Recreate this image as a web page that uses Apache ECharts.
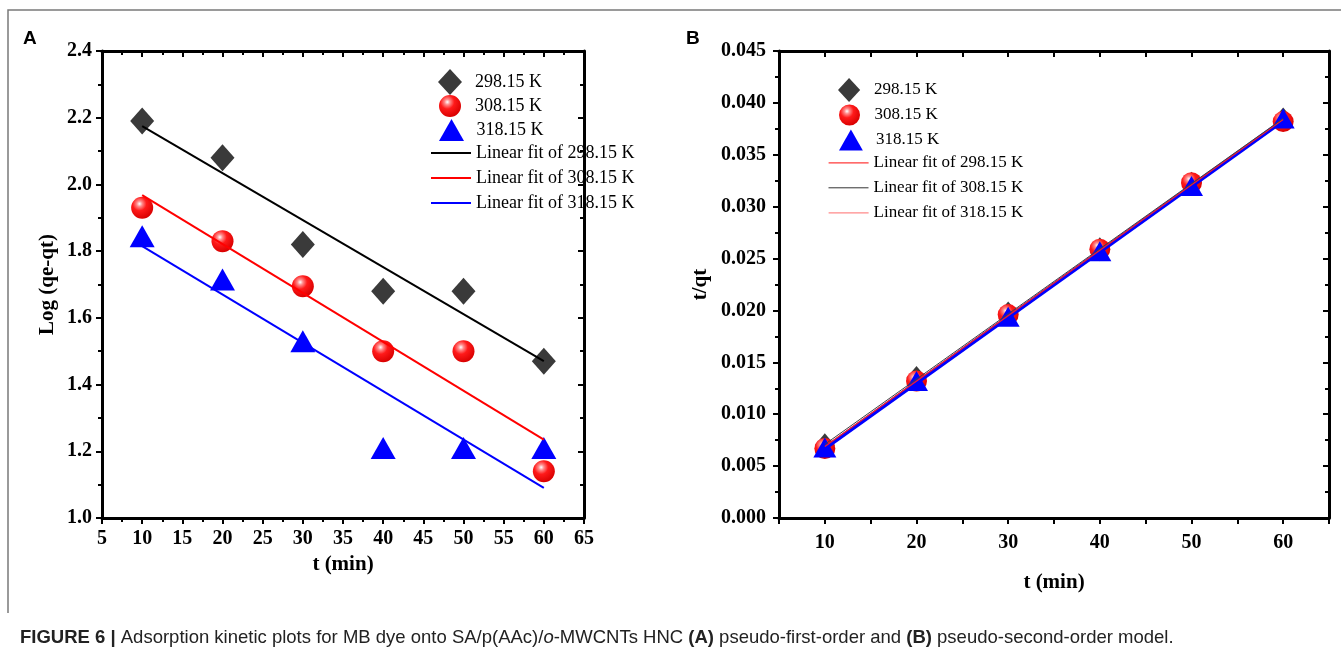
<!DOCTYPE html>
<html>
<head>
<meta charset="utf-8">
<script src="https://cdn.jsdelivr.net/npm/echarts@6/dist/echarts.min.js"></script>
<style>
html,body{margin:0;padding:0;background:#fff;}
#c{width:1341px;height:656px;}
</style>
</head>
<body>
<div id="c"></div>
<script>
// ---------- data ----------
const tA = [10, 20, 30, 40, 50, 60];
const logA298 = [2.19, 2.08, 1.82, 1.68, 1.68, 1.47];
const logA308 = [1.93, 1.83, 1.695, 1.50, 1.50, 1.14];
const logA318 = [1.845, 1.715, 1.53, 1.21, 1.21, 1.21];
const fitT = [10, 60];
const fitA298 = [2.175, 1.47];
const fitA308 = [1.968, 1.235];
const fitA318 = [1.815, 1.09];

const tB = [10, 20, 30, 40, 50, 60];
const tqB298 = [0.0070, 0.0135, 0.0197, 0.0259, 0.0322, 0.0384];
const tqB308 = [0.0067, 0.0132, 0.0196, 0.0259, 0.0323, 0.0382];
const tqB318 = [0.0068, 0.0132, 0.0194, 0.0257, 0.0320, 0.0385];
const fitB298 = [0.0069, 0.0384];
const fitB308 = [0.0071, 0.0385];
const fitB318 = [0.0067, 0.0383];

const names = ['298.15 K', '308.15 K', '318.15 K',
  'Linear fit of 298.15 K', 'Linear fit of 308.15 K', 'Linear fit of 318.15 K'];

const pair = (xs, ys) => xs.map((x, i) => [x, ys[i]]);

const serif = 'Liberation Serif, Times New Roman, serif';
const ballColor = {
  type: 'radial', x: 0.38, y: 0.32, r: 0.7,
  colorStops: [
    {offset: 0, color: '#ffffff'},
    {offset: 0.18, color: '#ff8a8a'},
    {offset: 0.45, color: '#ff1a1a'},
    {offset: 1, color: '#d80000'}
  ]
};
const diamondColor = '#3a3a3a';
const blue = '#0000ff';
const diamondIcon = 'path://M12,0 L24,13 L12,26 L0,13 Z';
const triangleIcon = 'path://M12.5,0 L25,22 L0,22 Z';
const circleIcon = 'path://M11,0 A11,11 0 1,1 10.99,0 Z';

const chart = echarts.init(document.getElementById('c'), null, {renderer: 'canvas'});

function boxAxes(grid, min, max, interval, minorSplit, isX, labelFmt, name, nameGap, labelMargin) {
  const main = {
    type: 'value', gridIndex: grid, min: min, max: max, interval: interval,
    position: isX ? 'bottom' : 'left',
    axisLine: {show: true, onZero: false, lineStyle: {color: '#000', width: 3}},
    axisTick: {show: true, inside: false, length: 6, lineStyle: {color: '#000', width: 2}},
    minorTick: {show: minorSplit > 0, splitNumber: minorSplit || 5, length: 4, lineStyle: {color: '#000', width: 2}},
    splitLine: {show: false},
    axisLabel: {show: true, color: '#000', fontFamily: serif, fontWeight: 'bold', fontSize: 20,
      margin: labelMargin, formatter: labelFmt},
    name: name, nameLocation: 'middle', nameGap: nameGap,
    nameTextStyle: {color: '#000', fontFamily: serif, fontWeight: 'bold', fontSize: 21}
  };
  const mirror = {
    type: 'value', gridIndex: grid, min: min, max: max, interval: interval,
    position: isX ? 'top' : 'right',
    axisLine: {show: true, onZero: false, lineStyle: {color: '#000', width: 3}},
    axisTick: {show: true, inside: true, length: 6, lineStyle: {color: '#000', width: 2}},
    minorTick: {show: minorSplit > 0, splitNumber: minorSplit || 5, length: 4, lineStyle: {color: '#000', width: 2}},
    splitLine: {show: false},
    axisLabel: {show: false}
  };
  return [main, mirror];
}

const [xA, xAt] = boxAxes(0, 5, 65, 5, 2, true, v => String(v), 't (min)', 27, 11);
const [yA, yAr] = boxAxes(0, 1.0, 2.4, 0.2, 2, false, v => v.toFixed(1), 'Log (qe-qt)', 44, 10);
const [xB, xBt] = boxAxes(1, 5, 65, 5, 0, true, v => (v % 10 === 0 ? String(v) : ''), 't (min)', 54, 15);
const [yB, yBr] = boxAxes(1, 0, 0.045, 0.005, 2, false, v => v.toFixed(3), 't/qt', 68, 13);

// one legend component per row, so each row sits where the reference has it
function legendRow(name, left, centerY, h, extra, fontSize) {
  return {
    orient: 'vertical', left: left, top: centerY - h / 2 - 3,
    itemWidth: 40, itemHeight: h, selectedMode: false,
    symbolKeepAspect: true,
    textStyle: {fontFamily: serif, fontSize: fontSize, color: '#000'},
    data: [Object.assign({name: name}, extra || {})]
  };
}
const rowsA = [80, 104, 128, 153, 178, 203];
const rowsB = [88, 113, 138, 163, 188, 213];
const legends = [
  legendRow(names[0], 433, rowsA[0], 26, {icon: diamondIcon}, 18),
  legendRow(names[1], 434, rowsA[1], 22, {icon: circleIcon}, 18),
  legendRow(names[2], 434, rowsA[2], 22, {icon: triangleIcon}, 18),
  legendRow(names[3], 425, rowsA[3], 22, {itemStyle: {opacity: 0}, lineStyle: {color: '#000', width: 2}}, 18),
  legendRow(names[4], 425, rowsA[4], 22, {itemStyle: {opacity: 0}, lineStyle: {color: '#ff0000', width: 2}}, 18),
  legendRow(names[5], 425, rowsA[5], 22, {itemStyle: {opacity: 0}, lineStyle: {color: '#0000ff', width: 2}}, 18),
  legendRow(names[0], 833, rowsB[0], 24, {icon: diamondIcon}, 17),
  legendRow(names[1], 834, rowsB[1], 21, {icon: circleIcon}, 17),
  legendRow(names[2], 834, rowsB[2], 21, {icon: triangleIcon}, 17),
  legendRow(names[3], 823, rowsB[3], 22, {itemStyle: {opacity: 0}, lineStyle: {color: '#ff3a3a', width: 1.2}}, 17),
  legendRow(names[4], 823, rowsB[4], 22, {itemStyle: {opacity: 0}, lineStyle: {color: '#333333', width: 1}}, 17),
  legendRow(names[5], 823, rowsB[5], 22, {itemStyle: {opacity: 0}, lineStyle: {color: '#ff8a8a', width: 1.2}}, 17)
];

const option = {
  backgroundColor: '#fff',
  animation: false,
  grid: [
    {left: 102, top: 51, width: 482, height: 467},
    {left: 779, top: 51, width: 550, height: 467}
  ],
  xAxis: [xA, xAt, xB, xBt],
  yAxis: [yA, yAr, yB, yBr],
  legend: legends,
  series: [
    // ---- panel A ----
    {name: names[0], type: 'scatter', xAxisIndex: 0, yAxisIndex: 0, symbol: 'diamond', symbolSize: [24, 27],
      itemStyle: {color: diamondColor, opacity: 1}, data: pair(tA, logA298), z: 2},
    {name: names[1], type: 'scatter', xAxisIndex: 0, yAxisIndex: 0, symbol: 'circle', symbolSize: 22,
      itemStyle: {color: ballColor, opacity: 1}, data: pair(tA, logA308), z: 2},
    {name: names[2], type: 'scatter', xAxisIndex: 0, yAxisIndex: 0, symbol: 'triangle', symbolSize: [25, 22],
      itemStyle: {color: blue, opacity: 1}, data: pair(tA, logA318), z: 2},
    {name: names[3], type: 'line', xAxisIndex: 0, yAxisIndex: 0, symbol: 'none',
      itemStyle: {color: '#000'}, lineStyle: {color: '#000', width: 2}, data: pair(fitT, fitA298), z: 3},
    {name: names[4], type: 'line', xAxisIndex: 0, yAxisIndex: 0, symbol: 'none',
      itemStyle: {color: '#ff0000'}, lineStyle: {color: '#ff0000', width: 2}, data: pair(fitT, fitA308), z: 3},
    {name: names[5], type: 'line', xAxisIndex: 0, yAxisIndex: 0, symbol: 'none',
      itemStyle: {color: '#0000ff'}, lineStyle: {color: '#0000ff', width: 2}, data: pair(fitT, fitA318), z: 3},
    // ---- panel B ----
    {name: names[0], type: 'scatter', xAxisIndex: 2, yAxisIndex: 2, symbol: 'diamond', symbolSize: [20, 24],
      itemStyle: {color: diamondColor, opacity: 1}, data: pair(tB, tqB298), z: 2},
    {name: names[1], type: 'scatter', xAxisIndex: 2, yAxisIndex: 2, symbol: 'circle', symbolSize: 21,
      itemStyle: {color: ballColor, opacity: 1}, data: pair(tB, tqB308), z: 2},
    {name: names[2], type: 'scatter', xAxisIndex: 2, yAxisIndex: 2, symbol: 'triangle', symbolSize: [23, 20],
      itemStyle: {color: blue, opacity: 1}, data: pair(tB, tqB318), z: 2},
    {name: names[5], type: 'line', xAxisIndex: 2, yAxisIndex: 2, symbol: 'none',
      itemStyle: {color: '#0000ff'}, lineStyle: {color: '#0000ff', width: 4}, data: pair(fitT, fitB318), z: 3},
    {name: names[3], type: 'line', xAxisIndex: 2, yAxisIndex: 2, symbol: 'none',
      itemStyle: {color: '#ff2020'}, lineStyle: {color: '#ff2020', width: 1.2}, data: pair(fitT, fitB298), z: 4},
    {name: names[4], type: 'line', xAxisIndex: 2, yAxisIndex: 2, symbol: 'none',
      itemStyle: {color: '#444444'}, lineStyle: {color: '#444444', width: 1}, data: pair(fitT, fitB308), z: 4}
  ],
  graphic: [
    {type: 'polyline', silent: true, shape: {points: [[8, 613], [8, 10], [1341, 10]]},
      style: {stroke: '#7a7a7a', lineWidth: 1.5, fill: null}},
    {type: 'text', left: 23, top: 29, silent: true,
      style: {text: 'A', fontFamily: 'Liberation Sans, Arial, sans-serif', fontWeight: 'bold', fontSize: 19, fill: '#000'}},
    {type: 'text', left: 686, top: 29, silent: true,
      style: {text: 'B', fontFamily: 'Liberation Sans, Arial, sans-serif', fontWeight: 'bold', fontSize: 19, fill: '#000'}},
    {type: 'text', left: 20, top: 628, silent: true,
      style: {
        text: '{b|FIGURE 6 |} Adsorption kinetic plots for MB dye onto SA/p(AAc)/{i|o}-MWCNTs HNC {b|(A)} pseudo-first-order and {b|(B)} pseudo-second-order model.',
        fontFamily: 'Liberation Sans, Arial, sans-serif', fontSize: 18.5, fill: '#222',
        rich: {
          b: {fontFamily: 'Liberation Sans, Arial, sans-serif', fontWeight: 'bold', fontSize: 18.5, fill: '#222'},
          i: {fontFamily: 'Liberation Sans, Arial, sans-serif', fontStyle: 'italic', fontSize: 18.5, fill: '#222'}
        }
      }}
  ]
};
chart.setOption(option);
</script>
</body>
</html>
